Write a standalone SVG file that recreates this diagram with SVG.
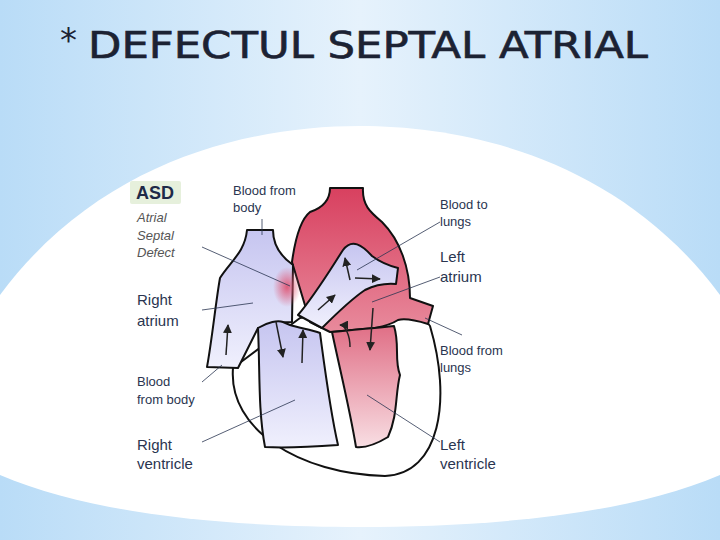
<svg xmlns="http://www.w3.org/2000/svg" width="720" height="540" viewBox="0 0 720 540">
<defs>
<linearGradient id="bg" x1="0" y1="0" x2="1" y2="0"><stop offset="0" stop-color="#b9dcf7"/><stop offset="0.5" stop-color="#e6f2fc"/><stop offset="1" stop-color="#b9dcf7"/></linearGradient>
<linearGradient id="lav" x1="0" y1="0" x2="0" y2="1"><stop offset="0" stop-color="#c6c5f0"/><stop offset="1" stop-color="#f0f0fd"/></linearGradient>
<linearGradient id="pink" x1="0" y1="0" x2="0" y2="1"><stop offset="0" stop-color="#d8405f"/><stop offset="1" stop-color="#e88a9c"/></linearGradient>
<linearGradient id="lvp" x1="0" y1="0" x2="0" y2="1"><stop offset="0" stop-color="#e06f86"/><stop offset="1" stop-color="#f8dee3"/></linearGradient>
<radialGradient id="glow"><stop offset="0" stop-color="#e0506e" stop-opacity="0.9"/><stop offset="1" stop-color="#e0506e" stop-opacity="0"/></radialGradient>
<marker id="ah" viewBox="0 0 10 10" refX="9" refY="5" markerWidth="6" markerHeight="6" orient="auto"><path d="M0,0 L10,5 L0,10 z" fill="#222"/></marker>
<style>
.w{stroke:#111;stroke-width:2;stroke-linejoin:round}
.lbl{font-family:"Liberation Sans",Arial,sans-serif;fill:#2a3550}
.s{font-size:13px}.m{font-size:15px}
.it{font-style:italic;fill:#555}
.ld{stroke:#2a3550;stroke-width:0.8;fill:none}
.fl{stroke:#222;stroke-width:1.5;fill:none;marker-end:url(#ah)}
</style>
</defs>
<rect width="720" height="540" fill="url(#bg)"/>
<path d="M0,295 C100,160 250,126 360,126 C470,126 620,160 720,295 L720,475 C620,518 470,527 360,527 C250,527 100,518 0,475 Z" fill="#fff"/>
<text x="60" y="52" font-family="DejaVu Sans,sans-serif" font-size="34" fill="#1c2233">*</text>
<text x="88" y="58" font-family="DejaVu Sans Condensed,DejaVu Sans,sans-serif" font-size="38" fill="#1c2233" stroke="#1c2233" stroke-width="0.6" textLength="560" lengthAdjust="spacingAndGlyphs">DEFECTUL SEPTAL ATRIAL</text>
<g id="heart">
<path class="w" fill="#fff" d="M233,368 C228,430 300,474 385,476 C440,474 452,400 430,326 L410,300 L300,318 Z"/>
<path class="w" fill="url(#pink)" d="M292,262 C295,240 300,220 310,212 C322,208 330,200 330,188 L363,188 C362,205 370,212 382,222 C400,240 410,268 410,298 L433,306 L428,324 C415,320 405,318 398,320 C392,324 385,326 375,328 L330,332 L310,322 Z"/>
<path class="w" fill="url(#lav)" d="M247,230 L273,230 C273,248 283,258 293,265 L292,322 C285,322 278,322 270,328 L258,328 L238,368 L207,367 C212,340 216,300 220,278 C230,262 245,252 247,230 Z"/>
<ellipse cx="287" cy="287" rx="14" ry="20" fill="url(#glow)"/>
<path class="w" fill="url(#lav)" d="M258,328 C268,322 278,320 283,322 L290,325 C300,328 312,330 320,333 C325,370 330,410 338,445 C310,447 285,448 265,447 C258,410 260,370 258,328 Z"/>
<path class="w" fill="url(#lvp)" d="M332,332 C350,330 375,328 394,326 C400,345 394,360 400,375 C395,395 398,415 388,437 C375,445 365,448 356,447 C350,410 340,370 332,332 Z"/>
<path class="w" fill="url(#lav)" d="M298,315 C315,295 330,270 343,250 C352,238 362,245 372,256 C380,262 390,266 398,268 L396,284 C385,283 375,285 365,290 C350,300 335,315 322,328 Z"/>
</g>
<g id="flows">
<path class="fl" d="M226,355 L228,325"/>
<path class="fl" d="M276,322 L283,357"/>
<path class="fl" d="M302,363 L303,330"/>
<path class="fl" d="M318,310 L335,295"/>
<path class="fl" d="M350,280 L345,258"/>
<path class="fl" d="M355,278 L380,279"/>
<path class="fl" d="M350,347 C350,335 345,325 340,325"/>
<path class="fl" d="M373,308 L370,350"/>
</g>
<g id="connectors">
<line class="ld" x1="202" y1="247" x2="290" y2="286"/>
<line class="ld" x1="262" y1="219" x2="262" y2="235"/>
<line class="ld" x1="202" y1="310" x2="253" y2="303"/>
<line class="ld" x1="202" y1="382" x2="222" y2="365"/>
<line class="ld" x1="202" y1="442" x2="295" y2="400"/>
<line class="ld" x1="440" y1="222" x2="357" y2="270"/>
<line class="ld" x1="440" y1="277" x2="372" y2="302"/>
<line class="ld" x1="462" y1="335" x2="425" y2="318"/>
<line class="ld" x1="440" y1="442" x2="367" y2="395"/>
</g>
<g id="labels">
<rect x="130" y="181" width="51" height="23" fill="#e6f0dc" rx="2"/>
<text x="136" y="199" font-family="Liberation Sans,Arial,sans-serif" font-size="18" font-weight="bold" fill="#1e2a48">ASD</text>
<text class="lbl s it" x="137" y="222">Atrial</text>
<text class="lbl s it" x="137" y="240">Septal</text>
<text class="lbl s it" x="137" y="257">Defect</text>
<text class="lbl s" x="233" y="195">Blood from</text>
<text class="lbl s" x="233" y="212">body</text>
<text class="lbl m" x="137" y="305">Right</text>
<text class="lbl m" x="137" y="326">atrium</text>
<text class="lbl s" x="137" y="386">Blood</text>
<text class="lbl s" x="137" y="404">from body</text>
<text class="lbl m" x="137" y="450">Right</text>
<text class="lbl m" x="137" y="469">ventricle</text>
<text class="lbl s" x="440" y="209">Blood to</text>
<text class="lbl s" x="440" y="226">lungs</text>
<text class="lbl m" x="440" y="262">Left</text>
<text class="lbl m" x="440" y="282">atrium</text>
<text class="lbl s" x="440" y="355">Blood from</text>
<text class="lbl s" x="440" y="372">lungs</text>
<text class="lbl m" x="440" y="450">Left</text>
<text class="lbl m" x="440" y="469">ventricle</text>
</g>
</svg>
